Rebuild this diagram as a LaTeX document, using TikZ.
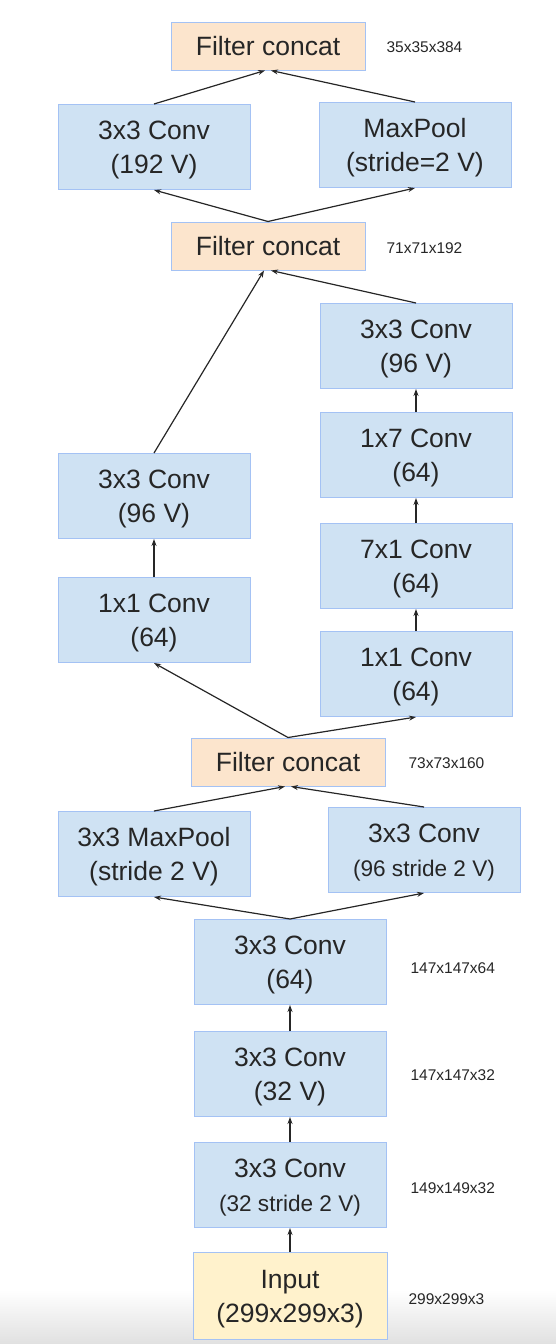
\documentclass[tikz,border=0pt]{standalone}
\usepackage{fontspec}
\setmainfont{Liberation Sans}
\usetikzlibrary{arrows.meta,positioning,calc}
\definecolor{convfill}{HTML}{CFE2F3}
\definecolor{convdraw}{HTML}{A4C2F4}
\definecolor{concatfill}{HTML}{FCE5CD}
\definecolor{inputfill}{HTML}{FFF2CC}
\definecolor{txt}{HTML}{262626}
\newcommand{\smallline}[1]{{\fontsize{22.6}{34}\selectfont #1}}

\begin{document}
\begin{tikzpicture}[
		x=1pt, y=-1pt,
		>={Stealth[length=7pt,width=5pt]},
		layer/.style={
			draw=convdraw,
			fill=convfill,
			line width=1pt,
			minimum width=192pt,
			minimum height=85pt,
			text depth=-4pt,
			align=center,
			text=txt,
			font=\fontsize{26.5}{34}\selectfont
		},
		concat/.style={
			layer,
			fill=concatfill,
			minimum width=194pt,
			minimum height=48pt,
			text depth=0pt
		},
		inputlayer/.style={
			layer,
			fill=inputfill,
			minimum width=194pt,
			minimum height=87pt
		},
		dimlabel/.style={
			anchor=west,
			text=txt,
			font=\fontsize{15.5}{18}\selectfont
		},
		flow/.style={
			->,
			line width=1.2pt,
			black!85
		}
		]
		\useasboundingbox (0,0) rectangle (556,1344);
		\shade[top color=white, bottom color=black!12] (0,1290) rectangle (556,1344);
		% top block
		\node[concat] (ctop) at (268,46) {Filter concat};
		\node[layer] (c192) at (154,147) {3x3 Conv\\(192 V)};
		\node[layer] (mp1) at (415,145) {MaxPool\\(stride=2 V)};
		\node[concat] (c2) at (268,246) {Filter concat};
		% middle block
		\node[layer] (r96) at (416,346) {3x3 Conv\\(96 V)};
		\node[layer] (r17) at (416,455) {1x7 Conv\\(64)};
		\node[layer] (r71) at (416,566) {7x1 Conv\\(64)};
		\node[layer] (r11) at (416,674) {1x1 Conv\\(64)};
		\node[layer] (l96) at (154,496) {3x3 Conv\\(96 V)};
		\node[layer] (l11) at (154,620) {1x1 Conv\\(64)};
		\node[concat] (c3) at (288,762) {Filter concat};
		% stem
		\node[layer] (mp3) at (154,854) {3x3 MaxPool\\(stride 2 V)};
		\node[layer] (s96) at (424,850) {3x3 Conv\\\smallline{(96 stride 2 V)}};
		\node[layer] (c64) at (290,962) {3x3 Conv\\(64)};
		\node[layer] (c32) at (290,1074) {3x3 Conv\\(32 V)};
		\node[layer] (c32s) at (290,1185) {3x3 Conv\\\smallline{(32 stride 2 V)}};
		\node[inputlayer] (inp) at (290,1296) {Input\\(299x299x3)};
		% sizes
		\node[dimlabel] (dtop) at (383,47) {35x35x384};
		\node[dimlabel] (d2) at (383,248) {71x71x192};
		\node[dimlabel] (d3) at (405,763) {73x73x160};
		\node[dimlabel] (d64) at (407,968) {147x147x64};
		\node[dimlabel] (d32) at (407,1075) {147x147x32};
		\node[dimlabel] (d32s) at (407,1188) {149x149x32};
		\node[dimlabel] (dinp) at (405,1299) {299x299x3};
		% arrows
		\draw[flow] (inp) -- (c32s);
		\draw[flow] (c32s) -- (c32);
		\draw[flow] (c32) -- (c64);
		\draw[flow] (c64.north) -- (mp3.south);
		\draw[flow] (c64.north) -- (s96.south);
		\draw[flow] (mp3.north) -- ([xshift=-3pt]c3.south);
		\draw[flow] (s96.north) -- ([xshift=3pt]c3.south);
		\draw[flow] (c3.north) -- (l11.south);
		\draw[flow] (c3.north) -- (r11.south);
		\draw[flow] (l11) -- (l96);
		\draw[flow] (r11) -- (r71);
		\draw[flow] (r71) -- (r17);
		\draw[flow] (r17) -- (r96);
		\draw[flow] (l96.north) -- ([xshift=-4pt]c2.south);
		\draw[flow] (r96.north) -- ([xshift=3pt]c2.south);
		\draw[flow] (c2.north) -- (c192.south);
		\draw[flow] (c2.north) -- (mp1.south);
		\draw[flow] (c192.north) -- ([xshift=-3pt]ctop.south);
		\draw[flow] (mp1.north) -- ([xshift=3pt]ctop.south);
		\end{tikzpicture}
\end{document}
